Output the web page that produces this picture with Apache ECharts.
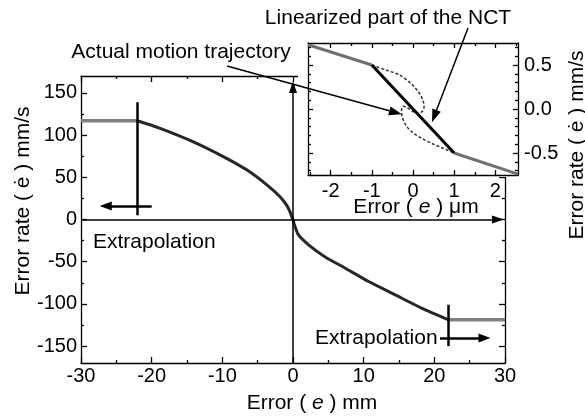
<!DOCTYPE html>
<html><head><meta charset="utf-8">
<script src="https://cdn.jsdelivr.net/npm/echarts@6/dist/echarts.min.js"></script>
<style>html,body{margin:0;padding:0;background:#fff}#c{width:585px;height:417px}</style>
</head><body><div id="c"></div>
<script>
// ---- main chart data (Error e in mm, Error rate in mm/s) ----
const curveX = [-22, -18.8, -14.1, -9.4, -6.5, -3.7, -1.84, -0.9, -0.42, -0.1, 0, 0.15, 0.75, 2.2, 4.5, 7.4, 10.7, 14.4, 18.2, 22];
const curveY = [117, 108, 92, 72.5, 58.5, 41, 27, 17, 9, 1.5, 0, -5, -18, -30, -44, -57.7, -73.5, -89, -105, -118.8];
const extrapLeftX = [-30, -22];
const extrapLeftY = [117, 117];
const extrapRightX = [22, 30];
const extrapRightY = [-118.8, -118.8];
// extrapolation markers
const leftMarkX = -22, leftMarkY = [5, 139];
const leftArrowY = 16, leftArrowX = [-20, -27.3];
const rightMarkX = 22, rightMarkY = [-101, -150];
const rightArrowY = -140.5, rightArrowX = [20.8, 27.9];
const mainXTicks = [-30, -20, -10, 0, 10, 20, 30];
const mainYTicks = [-150, -100, -50, 0, 50, 100, 150];
const mainYMinor = [-125, -75, -25, 25, 75, 125];
// ---- inset data (Error e in µm, Error rate in mm/s) ----
const nctX = [-2.55, -1, 1, 2.55];
const nctY = [0.73, 0.5, -0.5, -0.74];
const trajX = [-1, -0.64, -0.32, -0.05, 0.14, 0.24, 0.27, 0.24, 0.14, 0.0, -0.15, -0.24, -0.28, -0.26, -0.18, -0.03, 0.2, 0.45, 0.7, 1.0];
const trajY = [0.5, 0.44, 0.385, 0.29, 0.19, 0.1, 0.03, -0.02, -0.05, -0.03, 0.02, 0.03, -0.02, -0.09, -0.18, -0.26, -0.33, -0.39, -0.44, -0.5];
const insetXTicks = [-2, -1, 0, 1, 2];
const insetXMinor = [-2.5, -1.5, -0.5, 0.5, 1.5, 2.5];
const insetYTicks = [-0.5, 0, 0.5];
const insetYMinor = [-0.7, -0.6, -0.4, -0.3, -0.2, -0.1, 0.1, 0.2, 0.3, 0.4, 0.6, 0.7];

const zip = (a, b) => a.map((v, i) => [v, b[i]]);
const FF = 'Liberation Sans, Arial, sans-serif';
const tickFont = { fontFamily: FF, fontSize: 20, color: '#000' };
const blk = { color: '#000', width: 1.3 };
const noLine = { show: false, onZero: false };

function xA(grid, pos, o) {
  return Object.assign({ gridIndex: grid, type: 'value', position: pos,
    axisLine: { onZero: false, lineStyle: blk }, splitLine: { show: false },
    axisTick: { inside: true, length: 6, lineStyle: blk }, axisLabel: { show: false } }, o);
}
const chart = echarts.init(document.getElementById('c'));
const option = {
  animation: false,
  backgroundColor: '#fff',
  grid: [
    { left: 81, top: 76, width: 424, height: 287 },
    { left: 308, top: 43, width: 210, height: 132 }
  ],
  xAxis: [
    xA(0, 'bottom', { min: -30, max: 30, interval: 10, minorTick: { show: true, splitNumber: 2, length: 3, lineStyle: blk },
      axisLabel: Object.assign({ margin: 3 }, tickFont) }),
    xA(0, 'top', { min: -30, max: 30, interval: 10, minorTick: { show: true, splitNumber: 2, length: 3, lineStyle: blk } }),
    xA(1, 'bottom', { min: -2.55, max: 2.55, z: 5, axisTick: { inside: true, length: 5, lineStyle: blk, customValues: insetXTicks },
      axisLabel: Object.assign({ margin: 6, customValues: insetXTicks }, tickFont) }),
    xA(1, 'top', { min: -2.55, max: 2.55, z: 5, axisTick: { inside: true, length: 5, lineStyle: blk, customValues: insetXTicks } }),
    xA(1, 'bottom', { min: -2.55, max: 2.55, z: 5, axisLine: noLine, axisTick: { inside: true, length: 3, lineStyle: blk, customValues: insetXMinor } }),
    xA(1, 'top', { min: -2.55, max: 2.55, z: 5, axisLine: noLine, axisTick: { inside: true, length: 3, lineStyle: blk, customValues: insetXMinor } })
  ],
  yAxis: [
    xA(0, 'left', { min: -170, max: 170, axisTick: { inside: true, length: 6, lineStyle: blk, customValues: mainYTicks },
      axisLabel: Object.assign({ margin: 4, customValues: mainYTicks }, tickFont) }),
    xA(0, 'right', { min: -170, max: 170, axisTick: { inside: true, length: 6, lineStyle: blk, customValues: mainYTicks } }),
    xA(0, 'left', { min: -170, max: 170, axisLine: noLine, axisTick: { inside: true, length: 3, lineStyle: blk, customValues: mainYMinor } }),
    xA(0, 'right', { min: -170, max: 170, axisLine: noLine, axisTick: { inside: true, length: 3, lineStyle: blk, customValues: mainYMinor } }),
    xA(1, 'right', { min: -0.75, max: 0.75, z: 5, axisTick: { inside: true, length: 5, lineStyle: blk, customValues: insetYTicks },
      axisLabel: Object.assign({ margin: 6, customValues: insetYTicks, formatter: v => Number(v).toFixed(1) }, tickFont) }),
    xA(1, 'left', { min: -0.75, max: 0.75, z: 5, axisTick: { inside: true, length: 5, lineStyle: blk, customValues: insetYTicks } }),
    xA(1, 'left', { min: -0.75, max: 0.75, z: 5, axisLine: noLine, axisTick: { inside: true, length: 3, lineStyle: blk, customValues: insetYMinor } }),
    xA(1, 'right', { min: -0.75, max: 0.75, z: 5, axisLine: noLine, axisTick: { inside: true, length: 3, lineStyle: blk, customValues: insetYMinor } })
  ],
  series: [
    { type: 'line', xAxisIndex: 0, yAxisIndex: 0, data: zip(curveX, curveY), symbol: 'none', z: 3, smooth: 0.2,
      lineStyle: { color: '#262626', width: 3 } },
    { type: 'line', xAxisIndex: 0, yAxisIndex: 0, data: zip(extrapLeftX, extrapLeftY), symbol: 'none', z: 3,
      lineStyle: { color: '#808080', width: 3.5 } },
    { type: 'line', xAxisIndex: 0, yAxisIndex: 0, data: zip(extrapRightX, extrapRightY), symbol: 'none', z: 3,
      lineStyle: { color: '#808080', width: 3.5 } },
    { type: 'line', xAxisIndex: 0, yAxisIndex: 0, data: [], symbol: 'none', z: 4, clip: false,
      markLine: { silent: true, animation: false, label: { show: false },
        data: [
          [{ coord: [0, -170], symbol: 'none' }, { coord: [0, 157], symbol: 'triangle', symbolSize: [8, 12] }],
          [{ coord: [-30, 0], symbol: 'none' }, { coord: [29.0, 0], symbol: 'triangle', symbolSize: [8, 12] }],
          [{ coord: [leftMarkX, leftMarkY[0]], symbol: 'none', lineStyle: { width: 2.5 } }, { coord: [leftMarkX, leftMarkY[1]], symbol: 'none' }],
          [{ coord: [leftArrowX[0], leftArrowY], symbol: 'none', lineStyle: { width: 2.5 } }, { coord: [leftArrowX[1] + 0.8, leftArrowY], symbol: 'triangle', symbolSize: [9, 12] }],
          [{ coord: [rightMarkX, rightMarkY[0]], symbol: 'none', lineStyle: { width: 2.5 } }, { coord: [rightMarkX, rightMarkY[1]], symbol: 'none' }],
          [{ coord: [rightArrowX[0], rightArrowY], symbol: 'none', lineStyle: { width: 2.5 } }, { coord: [rightArrowX[1] - 0.8, rightArrowY], symbol: 'triangle', symbolSize: [9, 12] }]
        ],
        lineStyle: { color: '#000', width: 1.5, type: 'solid' } } },
    { type: 'line', xAxisIndex: 2, yAxisIndex: 4, data: zip(nctX.slice(0, 2), nctY.slice(0, 2)), symbol: 'none', z: 6,
      lineStyle: { color: '#707070', width: 3 } },
    { type: 'line', xAxisIndex: 2, yAxisIndex: 4, data: zip(nctX.slice(2), nctY.slice(2)), symbol: 'none', z: 6,
      lineStyle: { color: '#707070', width: 3 } },
    { type: 'line', xAxisIndex: 2, yAxisIndex: 4, data: zip(nctX.slice(1, 3), nctY.slice(1, 3)), symbol: 'none', z: 7,
      lineStyle: { color: '#000', width: 3 } },
    { type: 'line', xAxisIndex: 2, yAxisIndex: 4, data: zip(trajX, trajY), symbol: 'none', smooth: 0.3, z: 6,
      lineStyle: { color: '#333', width: 1.5, type: [3, 2] } }
  ]
};
chart.setOption(option);

function arrow(sx, sy, tx, ty, hl, hw) {
  const dx = tx - sx, dy = ty - sy, L = Math.hypot(dx, dy), ux = dx / L, uy = dy / L;
  const bx = tx - ux * hl, by = ty - uy * hl;
  return [
    { type: 'line', z: 20, shape: { x1: sx, y1: sy, x2: bx, y2: by }, style: { stroke: '#000', lineWidth: 1.5 } },
    { type: 'polygon', z: 20, shape: { points: [[tx, ty], [bx - uy * hw, by + ux * hw], [bx + uy * hw, by - ux * hw]] }, style: { fill: '#000' } }
  ];
}
const tip1 = chart.convertToPixel({ gridIndex: 1 }, [-0.27, -0.06]);
const tip2 = chart.convertToPixel({ gridIndex: 1 }, [0.46, -0.15]);
const txt = (x, y, s, o) => Object.assign({ type: 'text', z: 20, x: x, y: y,
  style: Object.assign({ text: s, fontFamily: FF, fontSize: 21, fill: '#000', align: 'center', verticalAlign: 'middle' }, o || {}) });
const richI = { i: { fontFamily: FF, fontSize: 21, fontStyle: 'italic', fill: '#000' } };
chart.setOption({
  graphic: [
    { type: 'rect', z: 1, shape: { x: 298, y: 38, width: 224, height: 139 }, style: { fill: '#fff' } },
    ...arrow(227, 66, tip1[0], tip1[1], 13, 4.5),
    ...arrow(468, 28, tip2[0], tip2[1], 13, 4.5),
    txt(388, 18, 'Linearized part of the NCT'),
    txt(181, 52, 'Actual motion trajectory'),
    txt(93, 242, 'Extrapolation', { align: 'left' }),
    txt(315, 338, 'Extrapolation', { align: 'left' }),
    txt(312, 403, 'Error ( {i|e} ) mm', { rich: richI }),
    txt(416, 207, 'Error ( {i|e} ) μm', { rich: richI }),
    Object.assign(txt(23, 201, 'Error rate ( ė ) mm/s'), { rotation: Math.PI / 2 }),
    Object.assign(txt(577, 145, 'Error rate ( ė ) mm/s'), { rotation: Math.PI / 2 })
  ]
});
</script>
</body></html>
